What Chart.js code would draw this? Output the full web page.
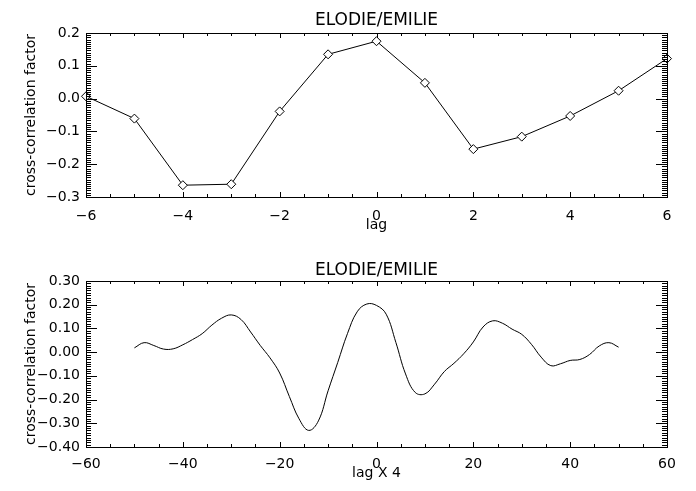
<!DOCTYPE html>
<html><head><meta charset="utf-8">
<script src="https://cdn.jsdelivr.net/npm/chart.js@4.4.0/dist/chart.umd.min.js"></script>
<style>
html,body{margin:0;padding:0;background:#fff;}
#wrap{position:relative;width:696px;height:491px;background:#fff;}
canvas{position:absolute;left:0;}
</style></head><body>
<div id="wrap">
<canvas id="c1" width="696" height="245" style="top:0px"></canvas>
<canvas id="c2" width="696" height="246" style="top:245px"></canvas>
</div>
<script>
// ---- data ----
const lagTop = [-6, -5, -4, -3, -2, -1, 0, 1, 2, 3, 4, 5, 6];
const ccfTop = [0.007, -0.061, -0.264, -0.261, -0.039, 0.135, 0.175, 0.048, -0.154, -0.116, -0.053, 0.024, 0.122];

const lagBottom = [-50, -48, -46, -44, -42, -40, -38, -36, -34, -32, -30, -28, -26, -24, -22, -20, -18, -16, -14, -12, -10, -8, -6, -4, -2, 0,
                   2, 4, 6, 8, 10, 12, 14, 16, 18, 20, 22, 24, 26, 28, 30, 32, 34, 36, 38, 40, 42, 44, 46, 48, 50];
const ccfBottom = [0.018, 0.040, 0.028, 0.013, 0.014, 0.031, 0.053, 0.078, 0.114, 0.143, 0.157, 0.138, 0.085, 0.028, -0.024, -0.088, -0.187, -0.281, -0.330, -0.290, -0.163, -0.043, 0.078, 0.170, 0.203, 0.197,
                   0.160, 0.041, -0.092, -0.170, -0.176, -0.135, -0.082, -0.047, -0.007, 0.043, 0.106, 0.132, 0.122, 0.097, 0.075, 0.033, -0.021, -0.057, -0.049, -0.035, -0.031, -0.010, 0.026, 0.040, 0.021];

const xTicksTop = [-6, -4, -2, 0, 2, 4, 6];
const yTicksTop = [-0.3, -0.2, -0.1, 0.0, 0.1, 0.2];
const xTicksBottom = [-60, -40, -20, 0, 20, 40, 60];
const yTicksBottom = [-0.4, -0.3, -0.2, -0.1, 0.0, 0.1, 0.2, 0.3];

const titleText = 'ELODIE/EMILIE';
const yTitle = 'cross-correlation factor';
const xTitleTop = 'lag';
const xTitleBottom = 'lag X 4';

const FONT = 'DejaVu Sans';
Chart.defaults.font.family = "'DejaVu Sans', sans-serif";
Chart.defaults.font.size = 14;
Chart.defaults.color = '#000';

function fmt(v, d) {
  let s = (Math.abs(v) < 1e-9 ? 0 : v).toFixed(d);
  return s.replace('-', '\u2212');
}

function idlFrame(opt) {
  return {
    id: 'idlFrame',
    afterDraw(chart) {
      const ctx = chart.ctx, a = chart.chartArea, xs = chart.scales.x, ys = chart.scales.y;
      ctx.save();
      ctx.strokeStyle = '#000';
      ctx.lineWidth = 1;
      const L = Math.round(a.left), R = Math.round(a.right), T = Math.round(a.top), B = Math.round(a.bottom);
      ctx.strokeRect(L + 0.5, T + 0.5, R - L, B - T);
      ctx.beginPath();
      const nx = Math.round((opt.xmax - opt.xmin) / opt.xminor);
      for (let i = 0; i <= nx; i++) {
        const v = opt.xmin + i * opt.xminor;
        const r = v / opt.xmajor;
        const major = Math.abs(r - Math.round(r)) < 1e-6;
        const len = major ? 5 : 3;
        const px = Math.round(xs.getPixelForValue(v)) + 0.5;
        ctx.moveTo(px, B); ctx.lineTo(px, B - len);
        ctx.moveTo(px, T); ctx.lineTo(px, T + len);
      }
      const ny = Math.round((opt.ymax - opt.ymin) / opt.yminor);
      for (let i = 0; i <= ny; i++) {
        const v = opt.ymin + i * opt.yminor;
        const r = v / opt.ymajor;
        const major = Math.abs(r - Math.round(r)) < 1e-6;
        const len = major ? 11 : 5;
        const py = Math.round(ys.getPixelForValue(v)) + 0.5;
        ctx.moveTo(L, py); ctx.lineTo(L + len, py);
        ctx.moveTo(R, py); ctx.lineTo(R - len, py);
      }
      ctx.stroke();

      ctx.fillStyle = '#000';
      const cx = (a.left + a.right) / 2;
      ctx.font = '17px "' + FONT + '"';
      ctx.textAlign = 'center';
      ctx.textBaseline = 'alphabetic';
      ctx.fillText(titleText, cx, opt.titleY);
      ctx.font = '14px "' + FONT + '"';
      ctx.fillText(opt.xTitle, cx, opt.xTitleY);
      ctx.save();
      ctx.translate(35, (a.top + a.bottom) / 2);
      ctx.rotate(-Math.PI / 2);
      ctx.fillText(yTitle, 0, 0);
      ctx.restore();
      ctx.restore();
    }
  };
}

function makeChart(id, o) {
  const tickFont = { family: "'DejaVu Sans', sans-serif", size: 14 };
  return new Chart(document.getElementById(id), {
    type: 'line',
    data: {
      datasets: [{
        data: o.xs.map((v, i) => ({ x: v, y: o.ys[i] })),
        borderColor: '#000',
        borderWidth: 1,
        pointStyle: 'rectRot',
        pointRadius: o.pointRadius,
        pointHoverRadius: o.pointRadius,
        pointBackgroundColor: '#fff',
        pointBorderColor: '#000',
        pointBorderWidth: 1,
        tension: o.tension,
        clip: false
      }]
    },
    options: {
      responsive: false,
      animation: false,
      devicePixelRatio: 1,
      layout: { padding: { top: o.padTop, right: 29, left: 0, bottom: 0 } },
      plugins: { legend: { display: false }, tooltip: { enabled: false }, title: { display: false } },
      scales: {
        x: {
          type: 'linear', min: o.xmin, max: o.xmax,
          afterBuildTicks: s => { s.ticks = o.xTicks.map(v => ({ value: v })); },
          afterFit: s => { s.height = o.xHeight; },
          ticks: { callback: v => fmt(v, 0), font: tickFont, color: '#000', padding: o.xPad, maxRotation: 0, autoSkip: false },
          grid: { display: false, drawTicks: false },
          border: { display: false }
        },
        y: {
          type: 'linear', min: o.ymin, max: o.ymax,
          afterBuildTicks: s => { s.ticks = o.yTicks.map(v => ({ value: v })); },
          afterFit: s => { s.width = 86; },
          ticks: { callback: v => fmt(v, o.yDec), font: tickFont, color: '#000', padding: 6, autoSkip: false },
          grid: { display: false, drawTicks: false },
          border: { display: false }
        }
      }
    },
    plugins: [idlFrame(o)]
  });
}

makeChart('c1', {
  xs: lagTop, ys: ccfTop, pointRadius: 4.5, tension: 0,
  xmin: -6, xmax: 6, ymin: -0.3, ymax: 0.2,
  xTicks: xTicksTop, yTicks: yTicksTop, yDec: 1,
  xmajor: 2, xminor: 0.5, ymajor: 0.1, yminor: 0.1 / 15,
  padTop: 33, xHeight: 48, xPad: 11,
  titleY: 25, xTitle: xTitleTop, xTitleY: 229
});

makeChart('c2', {
  xs: lagBottom, ys: ccfBottom, pointRadius: 0, tension: 0.4,
  xmin: -60, xmax: 60, ymin: -0.4, ymax: 0.3,
  xTicks: xTicksBottom, yTicks: yTicksBottom, yDec: 2,
  xmajor: 20, xminor: 5, ymajor: 0.1, yminor: 0.01,
  padTop: 36, xHeight: 44, xPad: 9,
  titleY: 30, xTitle: xTitleBottom, xTitleY: 232
});
</script>
</body></html>
